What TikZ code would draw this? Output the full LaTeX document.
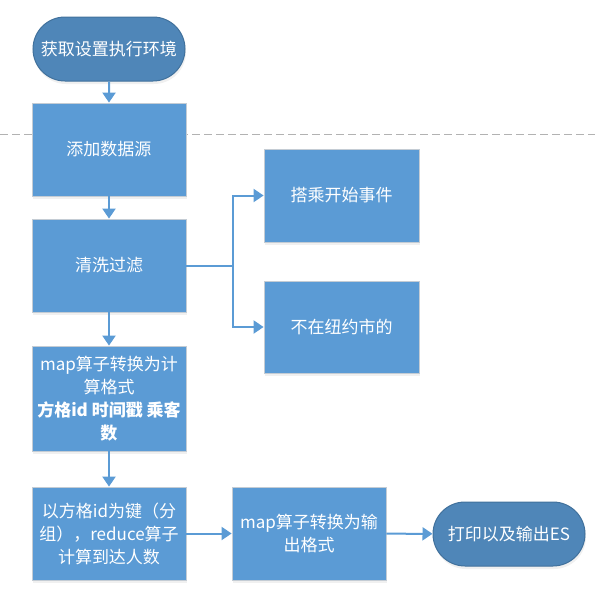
\documentclass[tikz,border=0pt]{standalone}
\usepackage{fontspec}
\setmainfont{Noto Sans CJK SC}
\usetikzlibrary{arrows.meta,shapes.misc,shadows}
\definecolor{boxblue}{HTML}{5B9BD5}
\definecolor{boxedge}{HTML}{C4CCD4}
\definecolor{termblue}{HTML}{4F86B8}
\definecolor{termedge}{HTML}{41719C}
\tikzset{
  proc/.style={draw=boxedge, line width=0.8pt, fill=boxblue, text=white,
    minimum width=154pt, minimum height=93pt, inner sep=2pt, align=center,
    font=\fontsize{17}{23}\selectfont,
    drop shadow={opacity=0.12, shadow xshift=1pt, shadow yshift=-3pt}},
  term/.style={rounded rectangle, draw=termedge, line width=1pt, fill=termblue,
    text=white, minimum width=156pt, minimum height=64pt, inner sep=2pt,
    font=\fontsize{17}{23}\selectfont,
    drop shadow={opacity=0.12, shadow xshift=1pt, shadow yshift=-3pt}},
  link/.style={draw=boxblue, line width=2pt, -{Triangle[width=13pt,length=10pt]}}
}

\begin{document}
\begin{tikzpicture}[x=1pt,y=-1pt]
\useasboundingbox (0,0) rectangle (595,598);
\draw[gray!60, line width=1pt, dash pattern=on 8pt off 4pt] (0,134)--(595,134);

\node[term] (env) at (109,49) {获取设置执行环境};
\node[proc] (source) at (109,149.5) {添加数据源};
\node[proc] (filter) at (109,265.5) {清洗过滤};
\node[proc, minimum width=155pt] (startev) at (341.5,195.5) {搭乘开始事件};
\node[proc, minimum width=155pt, minimum height=92pt] (notny) at (341.5,327) {不在纽约市的};
\node[proc, minimum height=105pt] (mapcalc) at (109,398.5)
  {map算子转换为计\\算格式\\{\bfseries 方格id 时间戳 乘客}\\{\bfseries 数}};
\node[proc] (reduce) at (109,533.5)
  {以方格id为键（分\\组），reduce算子\\计算到达人数};
\node[proc] (mapout) at (309,533.5) {map算子转换为输\\出格式};
\node[term] (sink) at (509,534) {打印以及输出ES};

\draw[link] (env) -- (source);
\draw[link] (source) -- (filter);
\draw[link] (filter) -- (mapcalc);
\draw[link] (mapcalc) -- (reduce);
\draw[link] (reduce) -- (mapout);
\draw[link] (mapout) -- (sink);
% fork to the two filter cases
\coordinate (fork) at (233,265.5);
\draw[link] (filter.east) -- (fork) |- (startev.west);
\draw[link] (fork) |- (notny.west);
\end{tikzpicture}
\end{document}
